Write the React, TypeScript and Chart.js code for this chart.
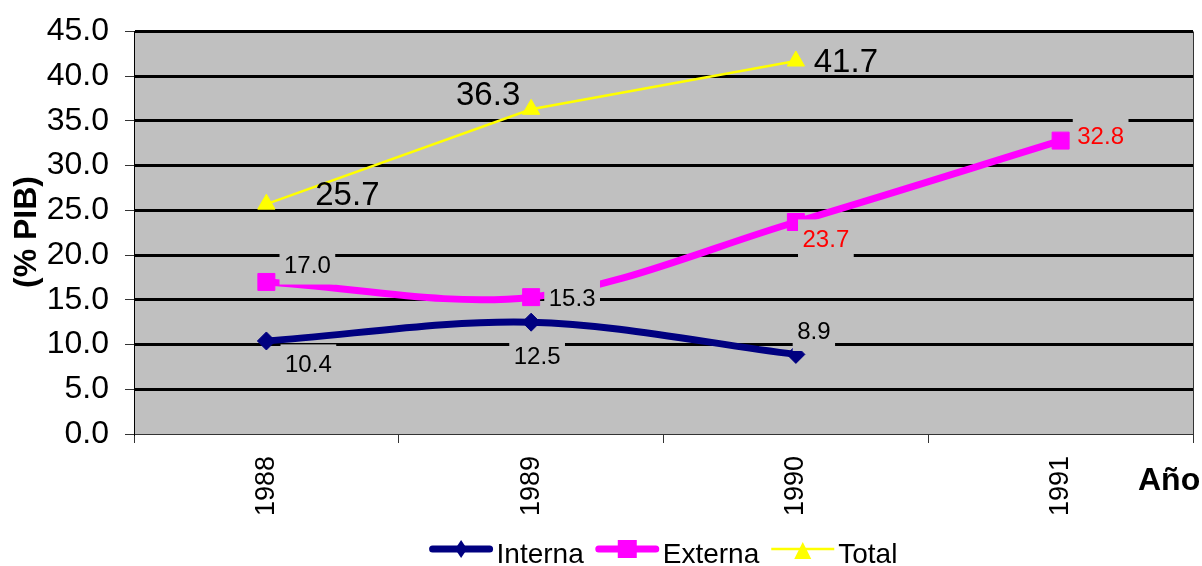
import React, { useEffect, useRef } from 'react';
import { Chart, registerables } from 'chart.js';

Chart.register(...registerables);

// Deuda pública (% del PIB) por año
const years = ['1988', '1989', '1990', '1991'];
const interna: (number | null)[] = [10.4, 12.5, 8.9, null];
const externa: (number | null)[] = [17.0, 15.3, 23.7, 32.8];
const total: (number | null)[] = [25.7, 36.3, 41.7, null];

const seriesNames = ['Interna', 'Externa', 'Total'];
const yAxisTitle = '(% PIB)';
const xAxisTitle = 'Año';

// Data-label placement (pixel offset of label centre from its point) and colours
const internaLabelOffsets: ([number, number] | null)[] = [[42, 22], [6, 33], [18, -24], null];
const externaLabelOffsets: ([number, number] | null)[] = [[41, -18], [41, 0], [30, 16], [40, -5]];
const totalLabelOffsets: ([number, number] | null)[] = [[81, -11], [-43, -16], [50, -1], null];
const externaLabelColors = ['#000000', '#000000', '#FF0000', '#FF0000'];

const FONT = '"Liberation Sans", Arial, sans-serif';
const PLOT_BG = '#C0C0C0';
const NAVY = '#000080';
const MAGENTA = '#FF00FF';
const YELLOW = '#FFFF00';

// target plot-area edges on the canvas
const PLOT_LEFT = 134;
const PLOT_RIGHT = 1193;
const PLOT_TOP = 31.5;
const PLOT_BOTTOM = 434;

type LabelCfg = {
  offsets: ([number, number] | null)[];
  colors: string[];
  size: number;
  boxed: boolean;
};

const labelCfgs: LabelCfg[] = [
  { offsets: internaLabelOffsets, colors: ['#000000', '#000000', '#000000', '#000000'], size: 24, boxed: true },
  { offsets: externaLabelOffsets, colors: externaLabelColors, size: 24, boxed: true },
  { offsets: totalLabelOffsets, colors: ['#000000', '#000000', '#000000', '#000000'], size: 33, boxed: false },
];

const plotBackground = {
  id: 'plotBackground',
  beforeDraw(chart: any) {
    const { ctx, chartArea } = chart;
    ctx.save();
    ctx.fillStyle = PLOT_BG;
    ctx.fillRect(chartArea.left, chartArea.top, chartArea.right - chartArea.left, chartArea.bottom - chartArea.top);
    ctx.restore();
  },
};

const valueLabels = {
  id: 'valueLabels',
  afterDatasetsDraw(chart: any) {
    const { ctx } = chart;
    ctx.save();
    chart.data.datasets.forEach((ds: any, di: number) => {
      const cfg = labelCfgs[di];
      const meta = chart.getDatasetMeta(di);
      ds.data.forEach((v: number | null, i: number) => {
        const off = cfg.offsets[i];
        if (v == null || !off) return;
        const pt = meta.data[i];
        const cx = pt.x + off[0];
        const cy = pt.y + off[1];
        const text = v.toFixed(1);
        ctx.font = `${cfg.size}px ${FONT}`;
        const w = ctx.measureText(text).width;
        const capH = cfg.size * 0.716;
        const baseline = cy + capH / 2;
        if (cfg.boxed) {
          ctx.fillStyle = PLOT_BG;
          ctx.fillRect(cx - w / 2 - 4.5, baseline - capH - 10, w + 9, capH + 22);
        }
        ctx.fillStyle = cfg.colors[i];
        ctx.textAlign = 'center';
        ctx.textBaseline = 'alphabetic';
        ctx.fillText(text, cx, baseline);
      });
    });
    ctx.restore();
  },
};

function drawMarker(ctx: CanvasRenderingContext2D, kind: string, x: number, y: number, color: string) {
  ctx.fillStyle = color;
  ctx.beginPath();
  if (kind === 'diamond') {
    ctx.moveTo(x, y - 9);
    ctx.lineTo(x + 6, y);
    ctx.lineTo(x, y + 9);
    ctx.lineTo(x - 6, y);
  } else if (kind === 'square') {
    ctx.rect(x - 9.5, y - 9, 19, 18);
  } else {
    ctx.moveTo(x, y - 7);
    ctx.lineTo(x + 8.5, y + 10);
    ctx.lineTo(x - 8.5, y + 10);
  }
  ctx.closePath();
  ctx.fill();
}

const decorations = {
  id: 'decorations',
  afterDraw(chart: any) {
    const { ctx, chartArea } = chart;
    ctx.save();

    // right edge of the plot area
    ctx.strokeStyle = '#333333';
    ctx.lineWidth = 1;
    ctx.beginPath();
    ctx.moveTo(chartArea.right + 0.5, chartArea.top);
    ctx.lineTo(chartArea.right + 0.5, chartArea.bottom);
    ctx.stroke();

    // axis titles
    ctx.fillStyle = '#000000';
    ctx.font = `bold 32px ${FONT}`;
    ctx.save();
    ctx.translate(27, 232);
    ctx.rotate(-Math.PI / 2);
    ctx.textAlign = 'center';
    ctx.textBaseline = 'middle';
    ctx.fillText(yAxisTitle, 0, 0);
    ctx.restore();
    ctx.textAlign = 'left';
    ctx.textBaseline = 'alphabetic';
    ctx.fillText(xAxisTitle, 1138, 490);

    // legend
    const items = [
      { name: seriesNames[0], color: NAVY, width: 7, marker: 'diamond' },
      { name: seriesNames[1], color: MAGENTA, width: 7, marker: 'square' },
      { name: seriesNames[2], color: YELLOW, width: 2.5, marker: 'triangle' },
    ];
    const lineLen = 63;
    const gap = 4;
    const spacing = 12;
    ctx.font = `28px ${FONT}`;
    const widths = items.map((it) => ctx.measureText(it.name).width);
    const totalW = items.length * (lineLen + gap) + widths.reduce((a, b) => a + b, 0) + spacing * (items.length - 1);
    let x = (chartArea.left + chartArea.right) / 2 - totalW / 2;
    const ly = 549;
    items.forEach((it, k) => {
      ctx.strokeStyle = it.color;
      ctx.lineWidth = it.width;
      ctx.lineCap = it.width > 3 ? 'round' : 'butt';
      ctx.beginPath();
      ctx.moveTo(x + (it.width > 3 ? 3 : 0), ly);
      ctx.lineTo(x + lineLen - (it.width > 3 ? 3 : 0), ly);
      ctx.stroke();
      drawMarker(ctx, it.marker, x + lineLen / 2, ly, it.color);
      ctx.fillStyle = '#000000';
      ctx.textAlign = 'left';
      ctx.textBaseline = 'alphabetic';
      ctx.fillText(it.name, x + lineLen + gap, 563);
      x += lineLen + gap + widths[k] + spacing;
    });

    ctx.restore();
  },
};

// Pins the chart area to fixed canvas edges regardless of tick-label overhang
const pinChartArea = {
  id: 'pinChartArea',
  afterLayout(chart: any) {
    const ca = chart.chartArea;
    ca.left = PLOT_LEFT;
    ca.right = PLOT_RIGHT;
    ca.top = PLOT_TOP;
    ca.bottom = PLOT_BOTTOM;
    ca.width = PLOT_RIGHT - PLOT_LEFT;
    ca.height = PLOT_BOTTOM - PLOT_TOP;
    const x = chart.scales.x;
    const y = chart.scales.y;
    x.left = PLOT_LEFT;
    x.right = PLOT_RIGHT;
    x.width = PLOT_RIGHT - PLOT_LEFT;
    x.top = PLOT_BOTTOM;
    x.bottom = 566;
    x.height = 566 - PLOT_BOTTOM;
    x.paddingLeft = 0;
    x.paddingRight = 0;
    y.left = 0;
    y.right = PLOT_LEFT;
    y.width = PLOT_LEFT;
    y.top = PLOT_TOP;
    y.bottom = PLOT_BOTTOM;
    y.height = PLOT_BOTTOM - PLOT_TOP;
    y.paddingTop = 0;
    y.paddingBottom = 0;
    x.configure();
    y.configure();
  },
};

export default function App() {
  const canvasRef = useRef<HTMLCanvasElement | null>(null);

  useEffect(() => {
    const canvas = canvasRef.current;
    if (!canvas) return;
    const chart = new Chart(canvas, {
      type: 'line',
      data: {
        labels: years,
        datasets: [
          {
            label: seriesNames[0],
            data: interna,
            borderColor: NAVY,
            backgroundColor: NAVY,
            borderWidth: 7,
            tension: 0.33,
            pointStyle: 'rectRot',
            pointRadius: 9,
            pointBorderWidth: 1,
            pointBackgroundColor: NAVY,
            pointBorderColor: NAVY,
            spanGaps: false,
          },
          {
            label: seriesNames[1],
            data: externa,
            borderColor: MAGENTA,
            backgroundColor: MAGENTA,
            borderWidth: 7,
            tension: 0.33,
            pointStyle: 'rect',
            pointRadius: 12,
            pointBorderWidth: 1,
            pointBackgroundColor: MAGENTA,
            pointBorderColor: MAGENTA,
          },
          {
            label: seriesNames[2],
            data: total,
            borderColor: YELLOW,
            backgroundColor: YELLOW,
            borderWidth: 2.5,
            tension: 0,
            pointStyle: 'triangle',
            pointRadius: 10,
            pointBorderWidth: 1,
            pointBackgroundColor: YELLOW,
            pointBorderColor: YELLOW,
          },
        ],
      },
      options: {
        responsive: false,
        animation: false,
        events: [],
        layout: { padding: { left: 0, right: 9, top: 31.5, bottom: 0 } },
        plugins: {
          legend: { display: false },
          tooltip: { enabled: false },
          title: { display: false },
        },
        scales: {
          x: {
            type: 'category',
            offset: true,
            grid: {
              display: true,
              offset: true,
              drawOnChartArea: false,
              drawTicks: true,
              tickLength: 9,
              tickColor: '#333333',
              tickWidth: 1,
            },
            border: { display: true, color: '#333333', width: 1 },
            ticks: {
              color: '#000000',
              font: { family: FONT, size: 27 },
              minRotation: 90,
              maxRotation: 90,
              autoSkip: false,
              padding: 13,
            },
            afterFit(scale: any) {
              scale.height = 132;
            },
          },
          y: {
            min: 0,
            max: 45,
            grid: {
              color: (c: any) => (c.tick && c.tick.value === 0 ? 'rgba(0,0,0,0)' : '#000000'),
              lineWidth: 3,
              drawTicks: true,
              tickLength: 9,
              tickColor: '#333333',
              tickWidth: 1,
            },
            border: { display: true, color: '#000000', width: 1 },
            ticks: {
              stepSize: 5,
              color: '#000000',
              font: { family: FONT, size: 32 },
              padding: 16,
              callback: (v: any) => Number(v).toFixed(1),
            },
            afterFit(scale: any) {
              scale.width = 134;
            },
          },
        },
      },
      plugins: [pinChartArea, plotBackground, valueLabels, decorations],
    } as any);
    return () => chart.destroy();
  }, []);

  return (
    <div style={{ position: 'fixed', left: 0, top: 0, width: 1202, height: 566, background: '#FFFFFF' }}>
      <canvas ref={canvasRef} width={1202} height={566} style={{ display: 'block' }} />
    </div>
  );
}
